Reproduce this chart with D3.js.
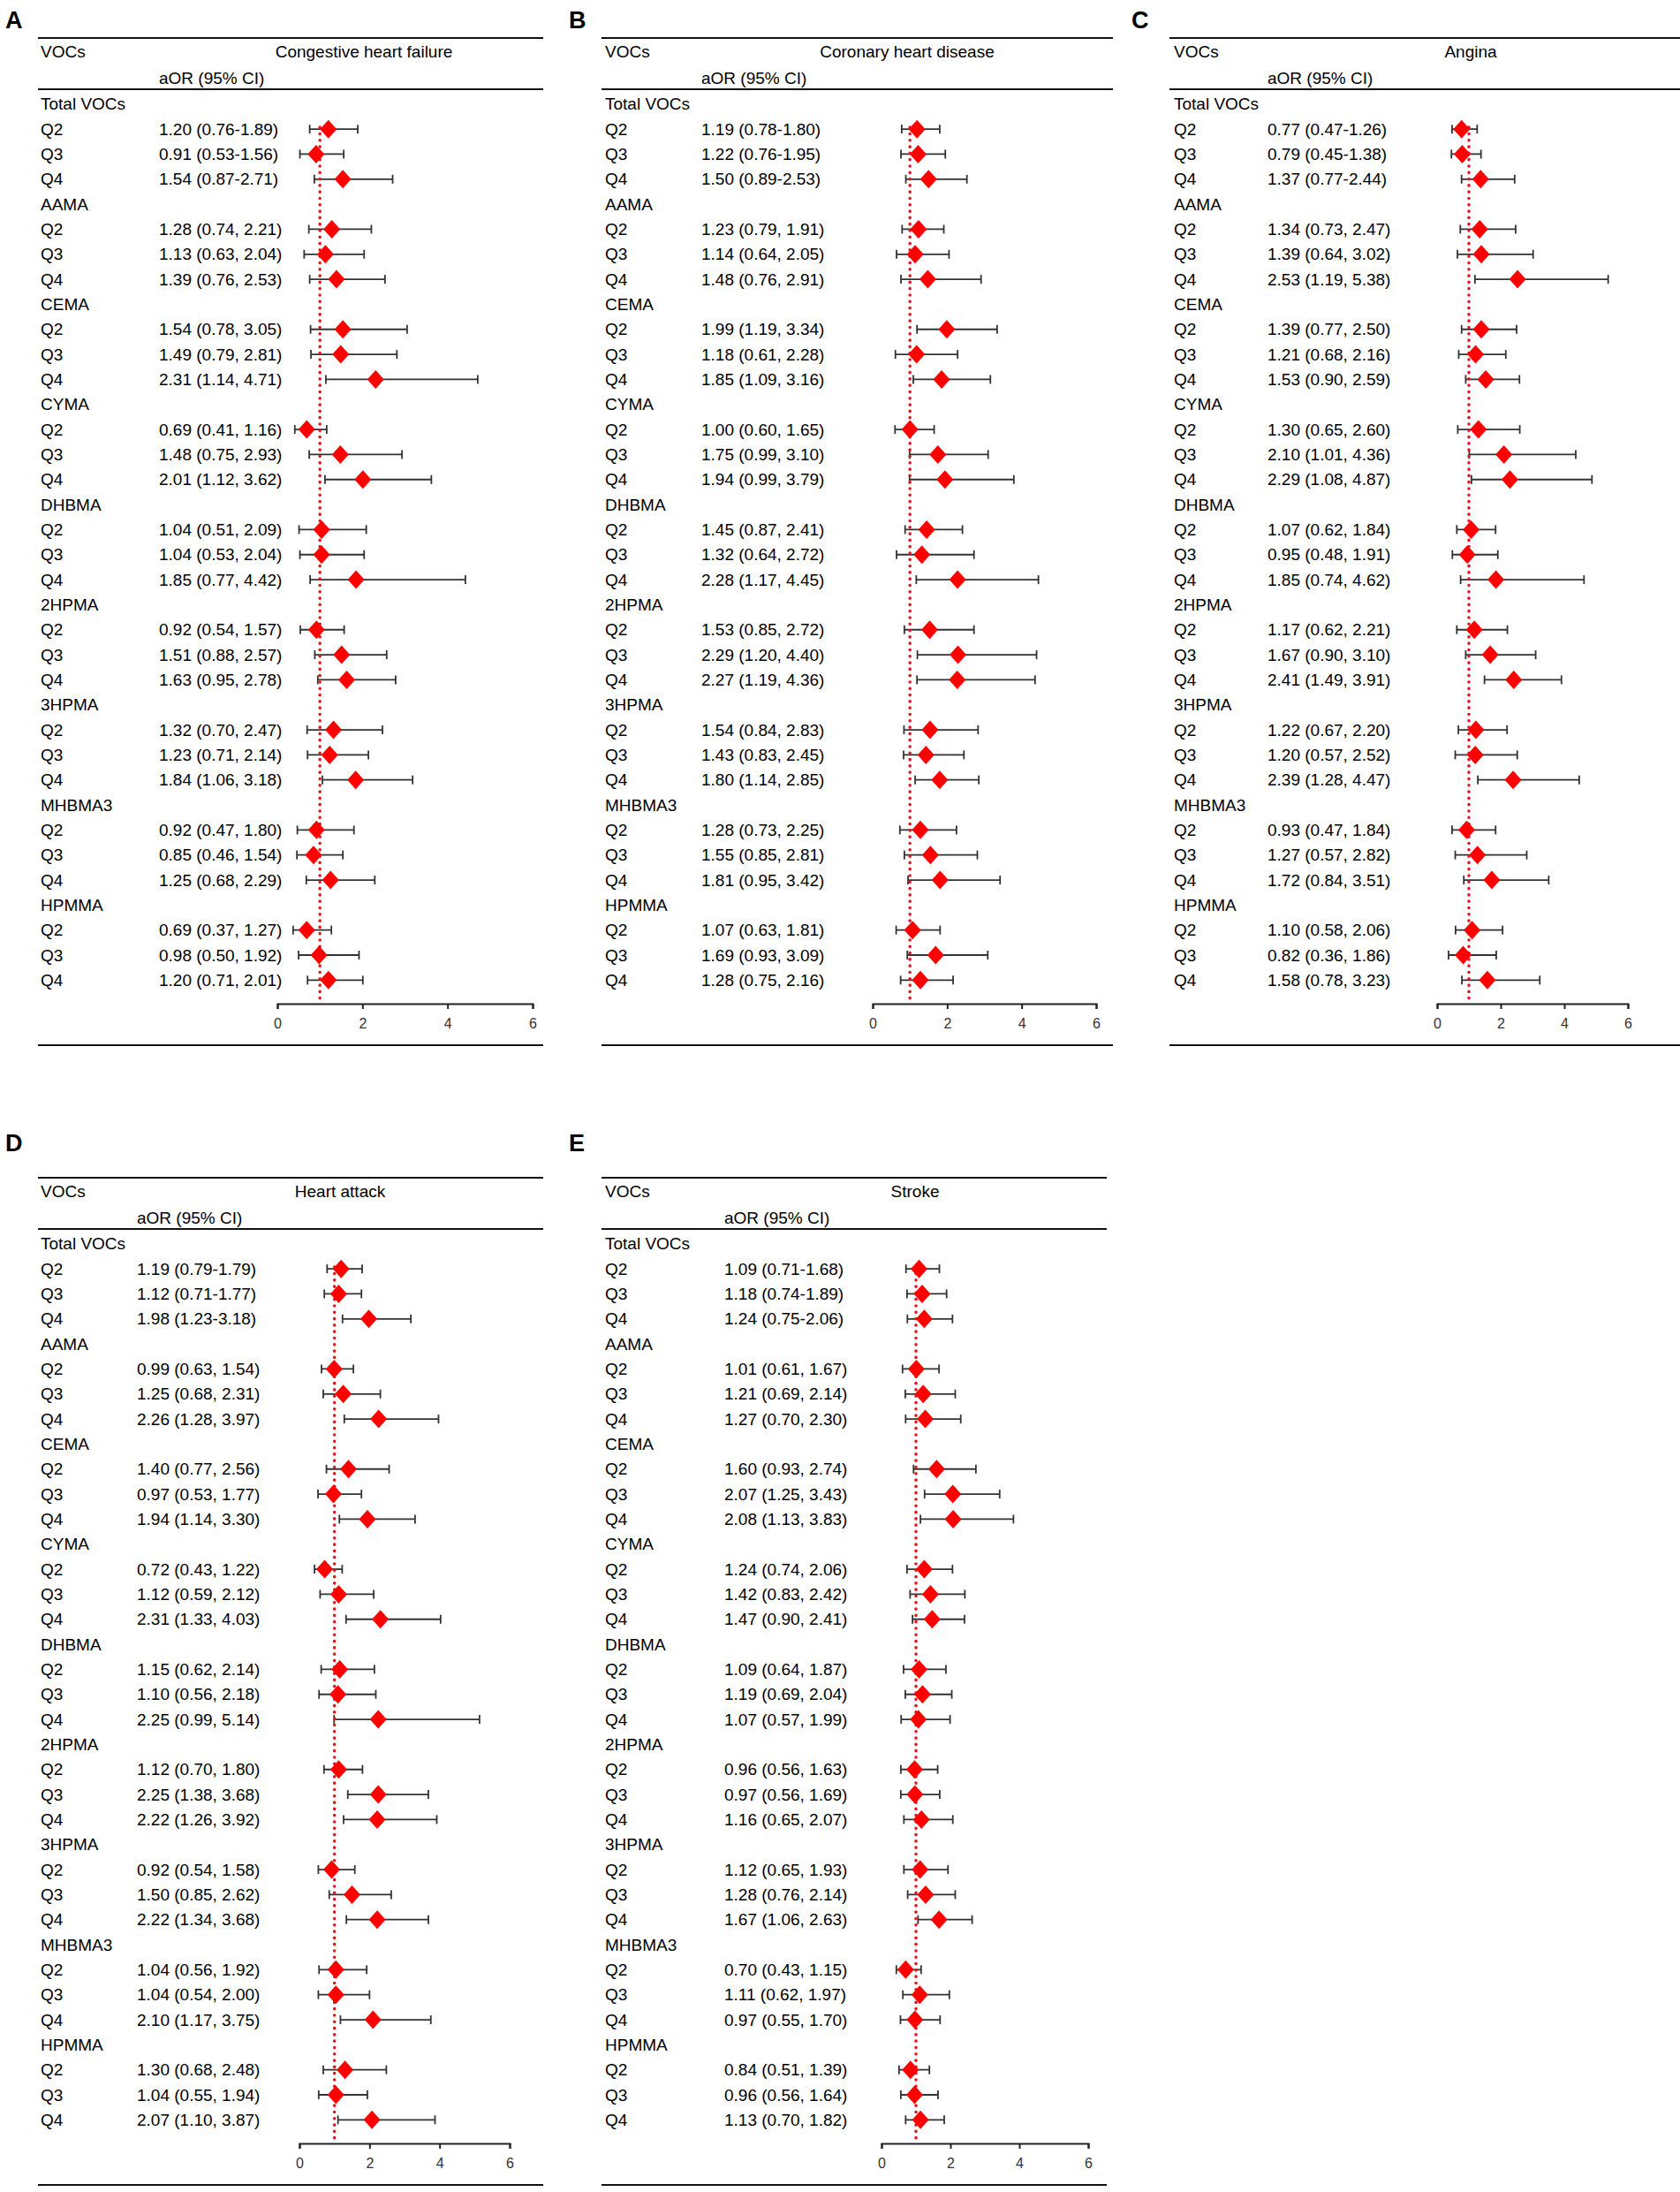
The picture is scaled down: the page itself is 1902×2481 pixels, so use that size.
<!DOCTYPE html>
<html>
<head>
<meta charset="utf-8">
<script src="https://cdn.jsdelivr.net/npm/d3@7"></script>
<style>
  body { margin: 0; background: #fff; }
  svg { display: block; font-family: "Liberation Sans", Arial, sans-serif; }
</style>
</head>
<body>
<svg id="chart" width="1902" height="2481"></svg>
<script>
// groups of metabolites and quartiles (rows of every panel)
const groups = ['Total VOCs', 'AAMA', 'CEMA', 'CYMA', 'DHBMA', '2HPMA', '3HPMA', 'MHBMA3', 'HPMMA'];
const quartiles = ['Q2', 'Q3', 'Q4'];
const tickValues = [0, 2, 4, 6];

// aOR, lower, upper -- one triple per row, 9 groups x 3 quartiles
const chf = [
  [1.20, 0.76, 1.89], [0.91, 0.53, 1.56], [1.54, 0.87, 2.71],
  [1.28, 0.74, 2.21], [1.13, 0.63, 2.04], [1.39, 0.76, 2.53],
  [1.54, 0.78, 3.05], [1.49, 0.79, 2.81], [2.31, 1.14, 4.71],
  [0.69, 0.41, 1.16], [1.48, 0.75, 2.93], [2.01, 1.12, 3.62],
  [1.04, 0.51, 2.09], [1.04, 0.53, 2.04], [1.85, 0.77, 4.42],
  [0.92, 0.54, 1.57], [1.51, 0.88, 2.57], [1.63, 0.95, 2.78],
  [1.32, 0.70, 2.47], [1.23, 0.71, 2.14], [1.84, 1.06, 3.18],
  [0.92, 0.47, 1.80], [0.85, 0.46, 1.54], [1.25, 0.68, 2.29],
  [0.69, 0.37, 1.27], [0.98, 0.50, 1.92], [1.20, 0.71, 2.01]
];
const chd = [
  [1.19, 0.78, 1.80], [1.22, 0.76, 1.95], [1.50, 0.89, 2.53],
  [1.23, 0.79, 1.91], [1.14, 0.64, 2.05], [1.48, 0.76, 2.91],
  [1.99, 1.19, 3.34], [1.18, 0.61, 2.28], [1.85, 1.09, 3.16],
  [1.00, 0.60, 1.65], [1.75, 0.99, 3.10], [1.94, 0.99, 3.79],
  [1.45, 0.87, 2.41], [1.32, 0.64, 2.72], [2.28, 1.17, 4.45],
  [1.53, 0.85, 2.72], [2.29, 1.20, 4.40], [2.27, 1.19, 4.36],
  [1.54, 0.84, 2.83], [1.43, 0.83, 2.45], [1.80, 1.14, 2.85],
  [1.28, 0.73, 2.25], [1.55, 0.85, 2.81], [1.81, 0.95, 3.42],
  [1.07, 0.63, 1.81], [1.69, 0.93, 3.09], [1.28, 0.75, 2.16]
];
const angina = [
  [0.77, 0.47, 1.26], [0.79, 0.45, 1.38], [1.37, 0.77, 2.44],
  [1.34, 0.73, 2.47], [1.39, 0.64, 3.02], [2.53, 1.19, 5.38],
  [1.39, 0.77, 2.50], [1.21, 0.68, 2.16], [1.53, 0.90, 2.59],
  [1.30, 0.65, 2.60], [2.10, 1.01, 4.36], [2.29, 1.08, 4.87],
  [1.07, 0.62, 1.84], [0.95, 0.48, 1.91], [1.85, 0.74, 4.62],
  [1.17, 0.62, 2.21], [1.67, 0.90, 3.10], [2.41, 1.49, 3.91],
  [1.22, 0.67, 2.20], [1.20, 0.57, 2.52], [2.39, 1.28, 4.47],
  [0.93, 0.47, 1.84], [1.27, 0.57, 2.82], [1.72, 0.84, 3.51],
  [1.10, 0.58, 2.06], [0.82, 0.36, 1.86], [1.58, 0.78, 3.23]
];
const heartAttack = [
  [1.19, 0.79, 1.79], [1.12, 0.71, 1.77], [1.98, 1.23, 3.18],
  [0.99, 0.63, 1.54], [1.25, 0.68, 2.31], [2.26, 1.28, 3.97],
  [1.40, 0.77, 2.56], [0.97, 0.53, 1.77], [1.94, 1.14, 3.30],
  [0.72, 0.43, 1.22], [1.12, 0.59, 2.12], [2.31, 1.33, 4.03],
  [1.15, 0.62, 2.14], [1.10, 0.56, 2.18], [2.25, 0.99, 5.14],
  [1.12, 0.70, 1.80], [2.25, 1.38, 3.68], [2.22, 1.26, 3.92],
  [0.92, 0.54, 1.58], [1.50, 0.85, 2.62], [2.22, 1.34, 3.68],
  [1.04, 0.56, 1.92], [1.04, 0.54, 2.00], [2.10, 1.17, 3.75],
  [1.30, 0.68, 2.48], [1.04, 0.55, 1.94], [2.07, 1.10, 3.87]
];
const stroke = [
  [1.09, 0.71, 1.68], [1.18, 0.74, 1.89], [1.24, 0.75, 2.06],
  [1.01, 0.61, 1.67], [1.21, 0.69, 2.14], [1.27, 0.70, 2.30],
  [1.60, 0.93, 2.74], [2.07, 1.25, 3.43], [2.08, 1.13, 3.83],
  [1.24, 0.74, 2.06], [1.42, 0.83, 2.42], [1.47, 0.90, 2.41],
  [1.09, 0.64, 1.87], [1.19, 0.69, 2.04], [1.07, 0.57, 1.99],
  [0.96, 0.56, 1.63], [0.97, 0.56, 1.69], [1.16, 0.65, 2.07],
  [1.12, 0.65, 1.93], [1.28, 0.76, 2.14], [1.67, 1.06, 2.63],
  [0.70, 0.43, 1.15], [1.11, 0.62, 1.97], [0.97, 0.55, 1.70],
  [0.84, 0.51, 1.39], [0.96, 0.56, 1.64], [1.13, 0.70, 1.82]
];

// panel placement
const panels = [
  {letter: 'A', title: 'Congestive heart failure', data: chf,
   lx: 6, ly: 32, top: 43, left: 43, right: 615, titleX: 412, labX: 46, valX: 180, x0: 314, x6: 603},
  {letter: 'B', title: 'Coronary heart disease', data: chd,
   lx: 644, ly: 32, top: 43, left: 681, right: 1260, titleX: 1027, labX: 685, valX: 794, x0: 988, x6: 1241},
  {letter: 'C', title: 'Angina', data: angina,
   lx: 1281, ly: 32, top: 43, left: 1324, right: 1902, titleX: 1665, labX: 1329, valX: 1435, x0: 1627, x6: 1843},
  {letter: 'D', title: 'Heart attack', data: heartAttack,
   lx: 6, ly: 1303, top: 1333, left: 43, right: 615, titleX: 385, labX: 46, valX: 155, x0: 339, x6: 577},
  {letter: 'E', title: 'Stroke', data: stroke,
   lx: 644, ly: 1303, top: 1333, left: 681, right: 1253, titleX: 1036, labX: 685, valX: 820, x0: 998, x6: 1232}
];

const svg = d3.select('#chart');
const fmt = d3.format('.2f');
const rowH = 28.33;
const fs = 19;

function drawPanel(p) {
  const g = svg.append('g');
  const x = d3.scaleLinear().domain([0, 6]).range([p.x0, p.x6]);

  // build the rows: a header row for each group then 3 quartile rows
  let rows = [];
  groups.forEach(function(name, gi) {
    rows.push({label: name, header: true});
    quartiles.forEach(function(q, qi) {
      let d = p.data[gi * 3 + qi];
      let txt = gi == 0
        ? fmt(d[0]) + ' (' + fmt(d[1]) + '-' + fmt(d[2]) + ')'
        : fmt(d[0]) + ' (' + fmt(d[1]) + ', ' + fmt(d[2]) + ')';
      rows.push({label: q, header: false, or: d[0], lo: d[1], hi: d[2], txt: txt});
    });
  });
  const y = d3.scalePoint().domain(d3.range(rows.length))
    .range([p.top + 74.8, p.top + 74.8 + rowH * (rows.length - 1)]);
  rows.forEach(function(r, i) { r.y = y(i); });

  g.append('text').attr('x', p.lx).attr('y', p.ly)
    .style('font-size', '27px').style('font-weight', 'bold').text(p.letter);

  // header lines + header text
  g.selectAll('line.rule')
    .data([p.top, p.top + 58, p.top + 1140])
    .enter().append('line')
    .attr('x1', p.left).attr('x2', p.right)
    .attr('y1', d => d).attr('y2', d => d)
    .attr('stroke', '#111').attr('stroke-width', 2.2);

  g.append('text').attr('x', p.labX).attr('y', p.top + 15).attr('dy', '0.35em')
    .style('font-size', fs + 'px').text('VOCs');
  g.append('text').attr('x', p.titleX).attr('y', p.top + 15).attr('dy', '0.35em')
    .attr('text-anchor', 'middle').style('font-size', fs + 'px').text(p.title);
  g.append('text').attr('x', p.valX).attr('y', p.top + 45).attr('dy', '0.35em')
    .style('font-size', fs + 'px').text('aOR (95% CI)');

  g.selectAll('text.lab').data(rows).enter().append('text')
    .attr('x', p.labX).attr('y', d => d.y).attr('dy', '0.35em')
    .style('font-size', fs + 'px').text(d => d.label);

  const pts = rows.filter(d => !d.header);
  g.selectAll('text.val').data(pts).enter().append('text')
    .attr('x', p.valX).attr('y', d => d.y).attr('dy', '0.35em')
    .style('font-size', fs + 'px').text(d => d.txt);

  // CI whiskers
  const eb = g.selectAll('g.eb').data(pts).enter().append('g')
    .attr('stroke', '#333').attr('stroke-width', 1.8);
  eb.append('line').attr('x1', d => x(d.lo)).attr('x2', d => x(d.hi))
    .attr('y1', d => d.y).attr('y2', d => d.y);
  eb.append('line').attr('x1', d => x(d.lo)).attr('x2', d => x(d.lo))
    .attr('y1', d => d.y - 5).attr('y2', d => d.y + 5);
  eb.append('line').attr('x1', d => x(d.hi)).attr('x2', d => x(d.hi))
    .attr('y1', d => d.y - 5).attr('y2', d => d.y + 5);

  // axis
  const axisY = p.top + 1093;
  const ax = g.append('g').attr('transform', 'translate(0,' + axisY + ')')
    .call(d3.axisBottom(x).tickValues(tickValues).tickFormat(d3.format('d'))
      .tickSize(6).tickSizeOuter(6).tickPadding(11));
  ax.select('.domain').attr('stroke', '#222').attr('stroke-width', 2);
  ax.selectAll('.tick line').attr('stroke', '#222').attr('stroke-width', 2);
  ax.selectAll('.tick text').attr('fill', '#333')
    .style('font-size', '16px').style('font-family', '"Liberation Sans", Arial, sans-serif');

  // null line at aOR = 1
  g.append('line').attr('x1', x(1)).attr('x2', x(1))
    .attr('y1', rows[1].y - 2).attr('y2', axisY)
    .attr('stroke', '#e8141c').attr('stroke-width', 3.6)
    .attr('stroke-linecap', 'round').attr('stroke-dasharray', '0.1 7.2');

  // diamonds
  g.selectAll('path.pt').data(pts).enter().append('path')
    .attr('d', function(d) {
      let cx = x(d.or), cy = d.y;
      return 'M' + (cx - 9.5) + ',' + cy + 'L' + cx + ',' + (cy - 10.5) +
        'L' + (cx + 9.5) + ',' + cy + 'L' + cx + ',' + (cy + 10.5) + 'Z';
    })
    .attr('fill', '#ff0000');
}

panels.forEach(drawPanel);
</script>
</body>
</html>
